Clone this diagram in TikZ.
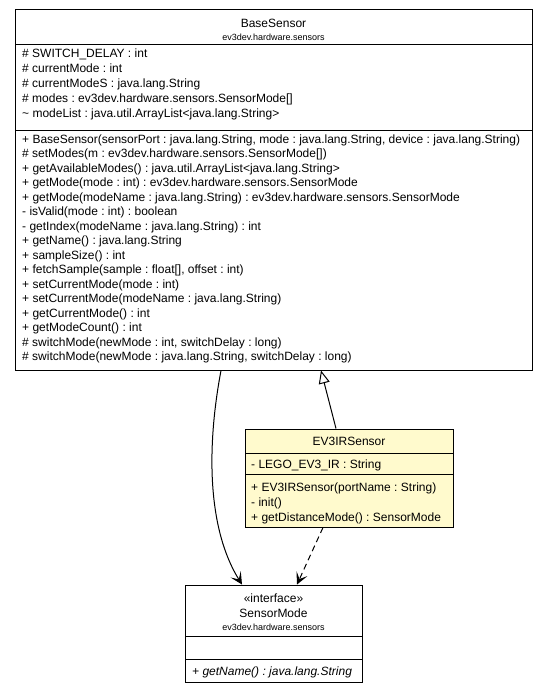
\documentclass[tikz,border=0pt]{standalone}
\usepackage{fontspec}
\setmainfont{Liberation Sans}
\usetikzlibrary{arrows.meta}
\definecolor{focusfill}{RGB}{255,250,205}
\frenchspacing
\tikzset{
  classbox/.style={draw, line width=1pt, inner sep=0pt, fill=white},
  member/.style={anchor=west, inner sep=0pt, text height=8.5pt, text depth=0pt, font=\fontsize{12}{14}\selectfont},
  classname/.style={inner sep=0pt, text height=8.5pt, text depth=0pt, font=\fontsize{12}{14}\selectfont},
  pkgname/.style={inner sep=0pt, text height=6.5pt, text depth=0pt, font=\fontsize{9}{11}\selectfont},
  gen/.style={line width=1pt, -{Triangle[open, length=13pt, width=11pt]}},
  assoc/.style={line width=1pt, -{Stealth[length=12pt, width=12pt, inset=6pt]}},
  dep/.style={assoc, dash pattern=on 6pt off 4pt},
}
\begin{document}
\begin{tikzpicture}[x=1pt, y=-1pt]
  \useasboundingbox (0,0) rectangle (547,693);
  % BaseSensor
  \node[classbox, minimum width=517pt, minimum height=360pt] (base) at (273.5,190) {};
  \draw[line width=1pt] (15,45) -- (532,45);
  \draw[line width=1pt] (15,130) -- (532,130);
  \node[classname] (baseName) at (273.5,23) {BaseSensor};
  \node[pkgname] (basePkg) at (273.5,37) {ev3dev.hardware.sensors};
  \foreach \txt [count=\i] in {{\# SWITCH\_DELAY : int},
      {\# currentMode : int},
      {\# currentModeS : java.lang.String},
      {\# modes : ev3dev.hardware.sensors.SensorMode[]},
      {\textasciitilde{} modeList : java.util.ArrayList<java.lang.String>}}
    \node[member] (baseAttr\i) at (22,{53+15*(\i-1)}) {\txt};
  \foreach \txt [count=\i] in {{+ BaseSensor(sensorPort : java.lang.String, mode : java.lang.String, device : java.lang.String)},
      {\# setModes(m : ev3dev.hardware.sensors.SensorMode[])},
      {+ getAvailableModes() : java.util.ArrayList<java.lang.String>},
      {+ getMode(mode : int) : ev3dev.hardware.sensors.SensorMode},
      {+ getMode(modeName : java.lang.String) : ev3dev.hardware.sensors.SensorMode},
      {- isValid(mode : int) : boolean},
      {- getIndex(modeName : java.lang.String) : int},
      {+ getName() : java.lang.String},
      {+ sampleSize() : int},
      {+ fetchSample(sample : float[], offset : int)},
      {+ setCurrentMode(mode : int)},
      {+ setCurrentMode(modeName : java.lang.String)},
      {+ getCurrentMode() : int},
      {+ getModeCount() : int},
      {\# switchMode(newMode : int, switchDelay : long)},
      {\# switchMode(newMode : java.lang.String, switchDelay : long)}}
    \node[member] (baseOp\i) at (22,{139+14.5*(\i-1)}) {\txt};
  % EV3IRSensor
  \node[classbox, fill=focusfill, minimum width=208pt, minimum height=98pt] (ev3) at (349,478) {};
  \draw[line width=1pt] (245,453) -- (453,453);
  \draw[line width=1pt] (245,474) -- (453,474);
  \node[classname] (ev3Name) at (349,441) {EV3IRSensor};
  \node[member] (ev3Attr) at (251,464) {- LEGO\_EV3\_IR : String};
  \foreach \txt [count=\i] in {{+ EV3IRSensor(portName : String)},
      {- init()},
      {+ getDistanceMode() : SensorMode}}
    \node[member] (ev3Op\i) at (251,{487+15*(\i-1)}) {\txt};
  % SensorMode
  \node[classbox, minimum width=177pt, minimum height=97pt] (mode) at (273.5,633.5) {};
  \draw[line width=1pt] (185,636) -- (362,636);
  \draw[line width=1pt] (185,659) -- (362,659);
  \node[classname] (modeStereo) at (273.5,598) {«interface»};
  \node[classname] (modeName) at (273.5,613) {SensorMode};
  \node[pkgname] (modePkg) at (273.5,627) {ev3dev.hardware.sensors};
  \node[member] (modeOp) at (192,671) {\itshape + getName() : java.lang.String};
  % relations
  \draw[gen] ([xshift=-13pt]ev3.north) -- ([xshift=47.5pt]base.south);
  \draw[assoc] ([xshift=-52.5pt]base.south) .. controls (206,450) and (208,530) .. ([xshift=-31.5pt]mode.north);
  \draw[dep] ([xshift=-26pt]ev3.south) -- ([xshift=23.5pt]mode.north);
\end{tikzpicture}
\end{document}
